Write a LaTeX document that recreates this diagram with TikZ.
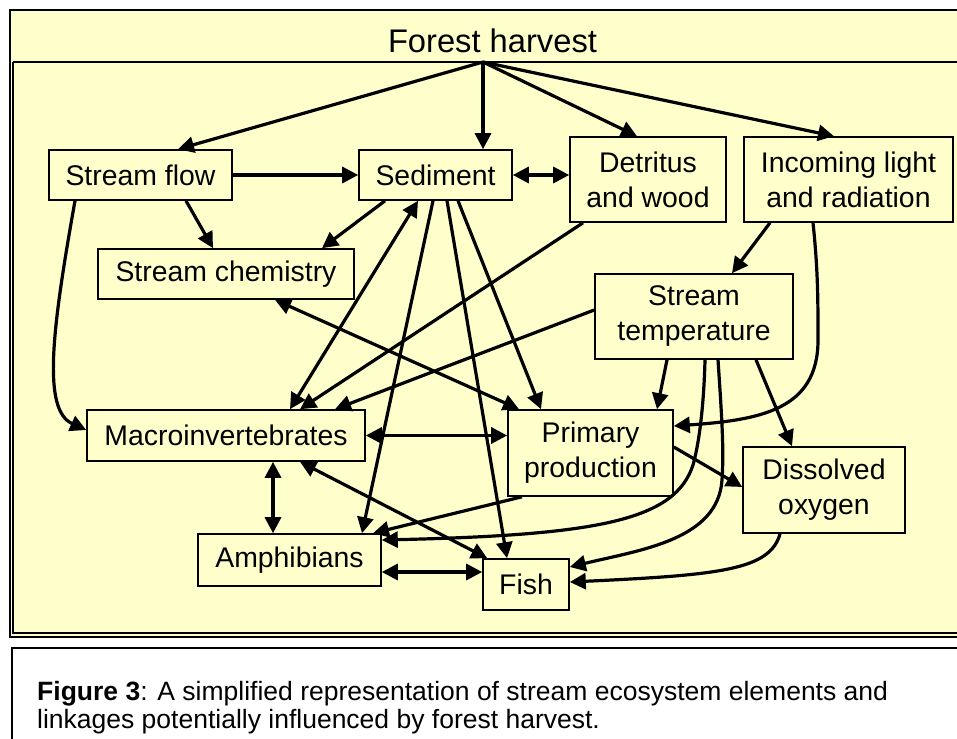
\documentclass[tikz,border=0pt]{standalone}
\usepackage{fontspec}
\setmainfont{Liberation Sans}
\usetikzlibrary{arrows.meta,calc}
\definecolor{bgyellow}{HTML}{FFFFCC}
\begin{document}
\begin{tikzpicture}[x=1pt,y=-1pt,
  box/.style={draw=black, fill=bgyellow, line width=1.6pt, align=center, inner sep=0pt,
    font=\fontsize{28.4}{35}\selectfont},
  link/.style={line width=3.2pt, -{Triangle[length=16pt,width=16pt]}},
  both/.style={line width=3.2pt, {Triangle[length=16pt,width=16pt]}-{Triangle[length=16pt,width=16pt]}},
  frameline/.style={line width=1.5pt}
]
\useasboundingbox (0,0) rectangle (957,738);
\fill[white] (0,0) rectangle (957,738);
% diagram frame
\fill[bgyellow] (10,10) rectangle (960,637);
\draw[line width=2pt] (960,10) -- (10,10) -- (10,637) -- (960,637);
\draw[frameline] (13,62) -- (960,62);
\draw[frameline] (13,62) -- (13,633) -- (960,633);
% caption frame
\draw[line width=2.5pt] (12,742) -- (12,648) -- (962,648);

\node[anchor=base, inner sep=0pt, font=\fontsize{32.7}{40}\selectfont] (title) at (492.5,53) {Forest harvest};
\coordinate (fh) at (483,62);

\node[box, minimum width=183pt, minimum height=50pt] (sf) at (140.5,175) {Stream flow};
\node[box, minimum width=153pt, minimum height=50pt] (sed) at (435.5,175) {Sediment};
\node[box, minimum width=156pt, minimum height=85pt] (det) at (648,179.5) {Detritus\\and wood};
\node[box, minimum width=209pt, minimum height=85pt] (inc) at (848.5,179.5) {Incoming light\\and radiation};
\node[box, minimum width=256pt, minimum height=50pt] (chem) at (226,274) {Stream chemistry};
\node[box, minimum width=198pt, minimum height=85pt] (temp) at (694,316.5) {Stream\\temperature};
\node[box, minimum width=278pt, minimum height=51pt] (macro) at (226,435.5) {Macroinvertebrates};
\node[box, minimum width=165pt, minimum height=86pt] (pp) at (590.5,453) {Primary\\production};
\node[box, minimum width=162pt, minimum height=86pt] (do) at (824,490) {Dissolved\\oxygen};
\node[box, minimum width=183pt, minimum height=52pt] (amph) at (289.5,560) {Amphibians};
\node[box, minimum width=86pt, minimum height=51pt] (fish) at (526,584.5) {Fish};

\draw[link] (fh) -- ([xshift=37.5pt]sf.north);
\draw[link] (fh) -- ([xshift=47.5pt]sed.north);
\draw[link] (fh) -- ([xshift=-11pt]det.north);
\draw[link] (fh) -- ([xshift=-14.5pt]inc.north);
\draw[link] (sf.east) -- (sf.east -| sed.west);
\draw[both] (sed.east) -- (sed.east -| det.west);
\draw[link] ([xshift=45.5pt]sf.south) -- ([xshift=-13pt]chem.north);
\draw[link] ([xshift=-65.5pt]sf.south) .. controls (52,330) and (42,410) .. ([yshift=5.5pt]macro.west);
\draw[link] ([xshift=-50.5pt]sed.south) -- ([xshift=96pt]chem.north);
\draw[both] ([xshift=-17.5pt]sed.south) -- ([xshift=64pt]macro.north);
\draw[link] ([xshift=-2.5pt]sed.south) -- ([xshift=72.5pt]amph.north);
\draw[link] ([xshift=11.5pt]sed.south) -- ([xshift=-19pt]fish.north);
\draw[link] ([xshift=22.5pt]sed.south) -- ([xshift=-49.5pt]pp.north);
\draw[link] ([xshift=-65pt]det.south) -- ([xshift=74pt]macro.north);
\draw[both] ([xshift=49pt]chem.south) -- ([xshift=-71.5pt]pp.north);
\draw[link] ([yshift=6.5pt]temp.west) -- ([xshift=109pt]macro.north);
\draw[link] ([xshift=-78.5pt]inc.south) -- ([xshift=38pt]temp.north);
\draw[link] ([xshift=-35.5pt]inc.south) .. controls (818,270) and (818,300) .. (818,340)
  .. controls (818,410) and (760,420) .. ([yshift=27pt]pp.east);
\draw[link] ([xshift=-27pt]temp.south) -- ([xshift=66.5pt]pp.north);
\draw[link] ([xshift=62pt]temp.south) -- ([xshift=-32pt]do.north);
\draw[link] ([xshift=11pt]temp.south) .. controls (704,400) and (700,440) .. (693,465)
  .. controls (675,520) and (600,535) .. ([yshift=20pt]amph.east);
\draw[link] ([xshift=24pt]temp.south) .. controls (722,420) and (724,450) .. (722,480)
  .. controls (718,540) and (640,550) .. ([yshift=17.5pt]fish.east);
\draw[link] ([yshift=6pt]pp.east) -- ([yshift=3pt]do.west);
\draw[link] ([xshift=-68.5pt]pp.south) -- ([xshift=83.5pt]amph.north);
\draw[both] (macro.east) -- (macro.east -| pp.west);
\draw[both] ([xshift=47pt]macro.south) -- ([xshift=47pt]macro.south |- amph.north);
\draw[both] ([xshift=74pt]macro.south) -- ([xshift=5pt]fish.north west);
\draw[both] ([yshift=-12pt]amph.east) -- ([yshift=-12pt]amph.east -| fish.west);
\draw[link] ([xshift=-44pt]do.south) .. controls (770,570) and (720,575) .. ([yshift=2.5pt]fish.east);

\node[anchor=base west, inner sep=0pt, font=\fontsize{26.5}{32}\selectfont] (cap1) at (37,700)
  {\textbf{Figure 3}: A simplified representation of stream ecosystem elements and};
\node[anchor=base west, inner sep=0pt, font=\fontsize{26.5}{32}\selectfont] (cap2) at (37,728)
  {linkages potentially influenced by forest harvest.};
\end{tikzpicture}
\end{document}
